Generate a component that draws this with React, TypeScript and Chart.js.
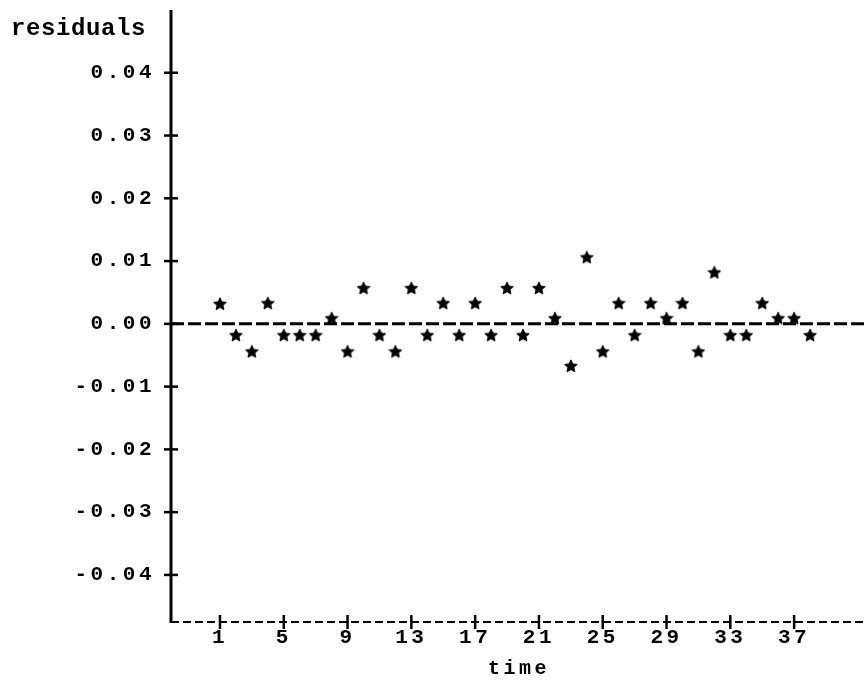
import { useEffect, useRef } from "react";
import { Chart, registerables } from "chart.js";

Chart.register(...registerables);

// time index of each residual
const times: number[] = [
  1, 2, 3, 4, 5, 6, 7, 8, 9, 10, 11, 12, 13, 14, 15, 16, 17, 18, 19,
  20, 21, 22, 23, 24, 25, 26, 27, 28, 29, 30, 31, 32, 33, 34, 35, 36, 37, 38,
];

// residual values
const residuals: number[] = [
  0.0032, -0.0018, -0.0044, 0.0033, -0.0018, -0.0018, -0.0018, 0.0009,
  -0.0044, 0.0057, -0.0018, -0.0044, 0.0057, -0.0018, 0.0033, -0.0018,
  0.0033, -0.0018, 0.0057, -0.0018, 0.0057, 0.0009, -0.0067, 0.0106,
  -0.0044, 0.0033, -0.0018, 0.0033, 0.0009, 0.0033, -0.0044, 0.0082,
  -0.0018, -0.0018, 0.0033, 0.0009, 0.0009, -0.0018,
];

const xTicks: number[] = [1, 5, 9, 13, 17, 21, 25, 29, 33, 37];
const yTicks: number[] = [-0.04, -0.03, -0.02, -0.01, 0, 0.01, 0.02, 0.03, 0.04];

const yTitle = "residuals";
const xTitle = "time";

const MONO = '"Liberation Mono", "DejaVu Sans Mono", monospace';

function makeStar(): HTMLCanvasElement {
  const c = document.createElement("canvas");
  const s = 14;
  c.width = s;
  c.height = s;
  const g = c.getContext("2d")!;
  const cx = s / 2;
  const cy = s / 2 + 0.5;
  const R = 6.6;
  const r = 3.1;
  g.beginPath();
  for (let i = 0; i < 10; i++) {
    const ang = -Math.PI / 2 + (i * Math.PI) / 5;
    const rad = i % 2 === 0 ? R : r;
    const px = cx + rad * Math.cos(ang);
    const py = cy + rad * Math.sin(ang);
    if (i === 0) g.moveTo(px, py);
    else g.lineTo(px, py);
  }
  g.closePath();
  g.fillStyle = "#000";
  g.fill();
  g.lineWidth = 1;
  g.strokeStyle = "#000";
  g.stroke();
  return c;
}

const axesPlugin = {
  id: "typewriterAxes",
  beforeDraw(chart: any) {
    (chart.ctx as any).letterSpacing = "3.5px";
  },
  beforeDatasetsDraw(chart: any) {
    const { ctx, chartArea, scales } = chart;
    const xs = scales.x;
    const ys = scales.y;
    const left = chartArea.left;
    const right = chartArea.right;
    const top = chartArea.top;
    const bottom = chartArea.bottom;
    ctx.save();
    ctx.strokeStyle = "#000";
    ctx.lineCap = "butt";

    // zero reference line (dashed)
    const y0 = ys.getPixelForValue(0);
    ctx.lineWidth = 3;
    ctx.setLineDash([13, 4]);
    ctx.beginPath();
    ctx.moveTo(left, y0);
    ctx.lineTo(right, y0);
    ctx.stroke();

    // bottom axis (dashed)
    ctx.lineWidth = 2.2;
    ctx.setLineDash([8, 4]);
    ctx.beginPath();
    ctx.moveTo(left, bottom);
    ctx.lineTo(right, bottom);
    ctx.stroke();

    ctx.setLineDash([]);
    // y axis (solid)
    ctx.lineWidth = 3;
    ctx.beginPath();
    ctx.moveTo(left, top);
    ctx.lineTo(left, bottom + 1);
    ctx.stroke();

    // y tick crosses
    ctx.lineWidth = 2.5;
    for (const v of yTicks) {
      const py = ys.getPixelForValue(v);
      ctx.beginPath();
      ctx.moveTo(left - 7, py);
      ctx.lineTo(left + 7, py);
      ctx.stroke();
    }
    // x tick crosses
    for (const v of xTicks) {
      const px = xs.getPixelForValue(v);
      ctx.beginPath();
      ctx.moveTo(px, bottom - 7);
      ctx.lineTo(px, bottom + 7);
      ctx.stroke();
    }
    ctx.restore();
  },
  afterDraw(chart: any) {
    const { ctx } = chart;
    ctx.save();
    (ctx as any).letterSpacing = "0.6px";
    ctx.fillStyle = "#000";
    ctx.font = `bold 24px ${MONO}`;
    ctx.textAlign = "left";
    ctx.textBaseline = "alphabetic";
    ctx.fillText(yTitle, 11, 35);
    ctx.restore();
  },
};

export default function App() {
  const ref = useRef<HTMLCanvasElement | null>(null);

  useEffect(() => {
    document.body.style.margin = "0";
    const canvas = ref.current!;
    const star = makeStar();
    const tickFont = { family: MONO, size: 21, weight: "bold" as const };
    const chart = new Chart(canvas, {
      type: "scatter",
      data: {
        datasets: [
          {
            data: times.map((t, i) => ({ x: t, y: residuals[i] })),
            pointStyle: star as any,
            pointRadius: 7,
            pointHoverRadius: 7,
            showLine: false,
          },
        ],
      },
      options: {
        animation: false,
        responsive: false,
        maintainAspectRatio: false,
        events: [],
        layout: {
          autoPadding: false,
          padding: { top: 10, right: 0, left: 0, bottom: 0 },
        },
        plugins: {
          legend: { display: false },
          tooltip: { enabled: false },
          title: { display: false },
        },
        scales: {
          x: {
            type: "linear",
            min: -2.07,
            max: 41.57,
            grid: { display: false, drawTicks: false },
            border: { display: false },
            afterBuildTicks: (s: any) => {
              s.ticks = xTicks.map((v) => ({ value: v }));
            },
            afterFit: (s: any) => {
              s.height = 62;
              s.paddingLeft = 0;
              s.paddingRight = 0;
            },
            ticks: {
              color: "#000",
              font: tickFont,
              padding: 3,
              maxRotation: 0,
              autoSkip: false,
              callback: (v: any) => String(v),
            },
            title: {
              display: true,
              text: xTitle,
              color: "#000",
              font: { family: MONO, size: 20, weight: "bold" },
              padding: { top: 0, bottom: 3 },
            },
          },
          y: {
            type: "linear",
            min: -0.0475,
            max: 0.05,
            grid: { display: false, drawTicks: false },
            border: { display: false },
            afterBuildTicks: (s: any) => {
              s.ticks = yTicks.map((v) => ({ value: v }));
            },
            afterFit: (s: any) => {
              s.width = 171;
              s.paddingTop = 0;
              s.paddingBottom = 0;
            },
            ticks: {
              color: "#000",
              font: tickFont,
              padding: 16,
              autoSkip: false,
              callback: (v: any) => Number(v).toFixed(2),
            },
          },
        },
      },
      plugins: [axesPlugin],
    });
    return () => chart.destroy();
  }, []);

  return (
    <canvas
      ref={ref}
      width={867}
      height={684}
      style={{ display: "block", width: 867, height: 684, background: "#fff" }}
    />
  );
}
